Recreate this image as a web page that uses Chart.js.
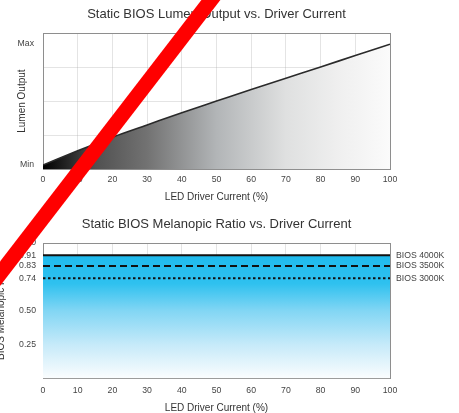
<!DOCTYPE html>
<html>
<head>
<meta charset="utf-8">
<script src="https://cdn.jsdelivr.net/npm/chart.js@4.4.1/dist/chart.umd.min.js"></script>
<style>
  html, body { margin: 0; padding: 0; background: #fff; overflow: hidden; }
  #wrap { position: relative; width: 459px; height: 413px; overflow: hidden; }
  .box { position: absolute; left: 0; }
  #slash { position: absolute; left: 0; top: 0; pointer-events: none; }
</style>
</head>
<body>
<div id="wrap">
  <div class="box" style="top:0"><canvas id="lumen" width="459" height="205"></canvas></div>
  <div class="box" style="top:205px"><canvas id="melanopic" width="459" height="209"></canvas></div>
  <svg id="slash" width="459" height="413"><line x1="234" y1="-30" x2="-28" y2="310" stroke="#ff0000" stroke-width="15"/></svg>
</div>
<script>
// driver current (%) on the x axis of both charts
var current = [0, 10, 20, 30, 40, 50, 60, 70, 80, 90, 100];

// top chart: relative lumen output, 0 = bottom of plot, 1 = top
var lumenOutput = [0.03, 0.135, 0.235, 0.325, 0.415, 0.5, 0.585, 0.668, 0.75, 0.835, 0.918];
var lumenGrid = [0, 0.25, 0.5, 0.75, 1];
var lumenLabelValues = [0.03, 0.925];
var lumenLabelText = ['Min', 'Max'];

// bottom chart: melanopic ratio per product
var bios4000K = [0.91, 0.91, 0.91, 0.91, 0.91, 0.91, 0.91, 0.91, 0.91, 0.91, 0.91];
var bios3500K = [0.83, 0.83, 0.83, 0.83, 0.83, 0.83, 0.83, 0.83, 0.83, 0.83, 0.83];
var bios3000K = [0.74, 0.74, 0.74, 0.74, 0.74, 0.74, 0.74, 0.74, 0.74, 0.74, 0.74];
var seriesNames = ['BIOS 4000K', 'BIOS 3500K', 'BIOS 3000K'];
var seriesLevels = [0.91, 0.83, 0.74];
var ratioGrid = [0, 0.25, 0.5, 0.75, 1];
var ratioLabelValues = [0.25, 0.5, 0.74, 0.83, 0.91, 1];

var FONT = "'Liberation Sans', Arial, sans-serif";
var BORDER = '#8e8e8e';
var GRID = 'rgba(166,166,166,0.3)';
Chart.defaults.font.family = FONT;
Chart.defaults.color = '#444';
Chart.defaults.animation = false;

function points(ys) {
  return current.map(function(x, i) { return { x: x, y: ys[i] }; });
}
function mergeTicks(a, b) {
  var all = a.concat(b).filter(function(v, i, s) { return s.indexOf(v) === i; });
  all.sort(function(p, q) { return p - q; });
  return all.map(function(v) { return { value: v }; });
}

var xAxis = function(pad, titlePad) {
  return {
    type: 'linear', min: 0, max: 100, z: 1,
    ticks: { stepSize: 10, padding: pad, color: '#444', font: { size: 8.7 } },
    grid: {
      drawTicks: false,
      color: function(c) { return c.tick && c.tick.value === 100 ? BORDER : GRID; }
    },
    border: { display: true, width: 1, color: BORDER },
    title: { display: true, text: 'LED Driver Current (%)', color: '#333', font: { size: 10 }, padding: titlePad }
  };
};

new Chart(document.getElementById('lumen'), {
  type: 'line',
  data: {
    datasets: [{
      data: points(lumenOutput),
      borderColor: '#2a2a2a',
      borderWidth: 1.6,
      pointRadius: 0,
      cubicInterpolationMode: 'monotone',
      fill: 'origin',
      backgroundColor: function(ctx) {
        var a = ctx.chart.chartArea;
        if (!a) return 'rgba(0,0,0,0)';
        var g = ctx.chart.ctx.createLinearGradient(a.left, 0, a.right, 0);
        g.addColorStop(0, '#000000');
        g.addColorStop(0.15, '#505050');
        g.addColorStop(0.3, '#727272');
        g.addColorStop(0.5, '#b2b5b7');
        g.addColorStop(0.7, '#dfe0e0');
        g.addColorStop(0.85, '#efefef');
        g.addColorStop(1, '#fbfbfb');
        return g;
      }
    }]
  },
  options: {
    responsive: false,
    layout: { padding: { left: 0, right: 69, top: 0, bottom: 0 } },
    scales: {
      x: xAxis(4.8, { top: 1.8, bottom: 2 }),
      y: {
        min: 0, max: 1, z: 1,
        afterBuildTicks: function(s) { s.ticks = mergeTicks(lumenGrid, lumenLabelValues); },
        afterFit: function(s) { s.width = 43; },
        ticks: {
          autoSkip: false, padding: 9, color: '#444', font: { size: 8.7 },
          callback: function(v) {
            var i = lumenLabelValues.indexOf(v);
            return i < 0 ? '' : lumenLabelText[i];
          }
        },
        grid: {
          drawTicks: false,
          color: function(c) {
            var v = c.tick && c.tick.value;
            if (v === 1) return BORDER;
            if (v === 0 || lumenLabelValues.indexOf(v) >= 0) return 'rgba(0,0,0,0)';
            return GRID;
          }
        },
        border: { color: BORDER },
        title: { display: true, text: 'Lumen Output', color: '#333', font: { size: 10 }, padding: { top: 16, bottom: 0 } }
      }
    },
    plugins: {
      legend: { display: false },
      tooltip: { enabled: false },
      title: {
        display: true, fullSize: false,
        text: 'Static BIOS Lumen Output vs. Driver Current',
        color: '#333', font: { size: 13, weight: 'normal' },
        padding: { top: 6.2, bottom: 11.2 }
      }
    }
  }
});

var lineStyles = [[], [7, 4], [2.5, 2.5]];
var levelsData = [bios4000K, bios3500K, bios3000K];

new Chart(document.getElementById('melanopic'), {
  type: 'line',
  data: {
    datasets: levelsData.map(function(ys, i) {
      return {
        label: seriesNames[i],
        data: points(ys),
        borderColor: '#111',
        borderWidth: 2,
        borderDash: lineStyles[i],
        pointRadius: 0,
        fill: i === 0 ? 'origin' : false,
        backgroundColor: function(ctx) {
          var a = ctx.chart.chartArea;
          if (!a) return 'rgba(0,0,0,0)';
          var g = ctx.chart.ctx.createLinearGradient(0, a.top, 0, a.bottom);
          g.addColorStop(0.09, '#1fbaed');
          g.addColorStop(0.3, '#2fc1ef');
          g.addColorStop(0.5, '#82d6f4');
          g.addColorStop(0.75, '#c6eaf9');
          g.addColorStop(1, '#fbfdfe');
          return g;
        }
      };
    })
  },
  options: {
    responsive: false,
    layout: { padding: 0 },
    scales: {
      x: xAxis(6.5, { top: 0, bottom: 0 }),
      y: {
        min: 0, max: 1, z: 1,
        afterBuildTicks: function(s) { s.ticks = mergeTicks(ratioGrid, ratioLabelValues); },
        afterFit: function(s) { s.width = 43; },
        ticks: {
          autoSkip: false, padding: 7, color: '#444', font: { size: 8.7 },
          callback: function(v) {
            return ratioLabelValues.indexOf(v) < 0 ? '' : v.toFixed(2);
          }
        },
        grid: {
          drawTicks: false,
          color: function(c) {
            var v = c.tick && c.tick.value;
            if (v === 1) return BORDER;
            if (v === 0 || ratioGrid.indexOf(v) < 0) return 'rgba(0,0,0,0)';
            return GRID;
          }
        },
        border: { color: BORDER },
        title: { display: true, text: 'BIOS Melanopic Ratio', color: '#333', font: { size: 10 }, padding: { top: -5, bottom: 0 } }
      },
      y2: {
        position: 'right',
        min: 0, max: 1, z: 1,
        afterBuildTicks: function(s) { s.ticks = seriesLevels.map(function(v) { return { value: v }; }); },
        afterFit: function(s) { s.width = 69; },
        ticks: {
          autoSkip: false, padding: 6, color: '#444', font: { size: 8.7 },
          callback: function(v) { return seriesNames[seriesLevels.indexOf(v)]; }
        },
        grid: { display: false, drawTicks: false },
        border: { display: true, color: BORDER }
      }
    },
    plugins: {
      legend: { display: false },
      tooltip: { enabled: false },
      filler: { drawTime: 'beforeDatasetsDraw' },
      title: {
        display: true, fullSize: false,
        text: 'Static BIOS Melanopic Ratio vs. Driver Current',
        color: '#333', font: { size: 13, weight: 'normal' },
        padding: { top: 11.2, bottom: 11.2 }
      }
    }
  }
});
</script>
</body>
</html>
